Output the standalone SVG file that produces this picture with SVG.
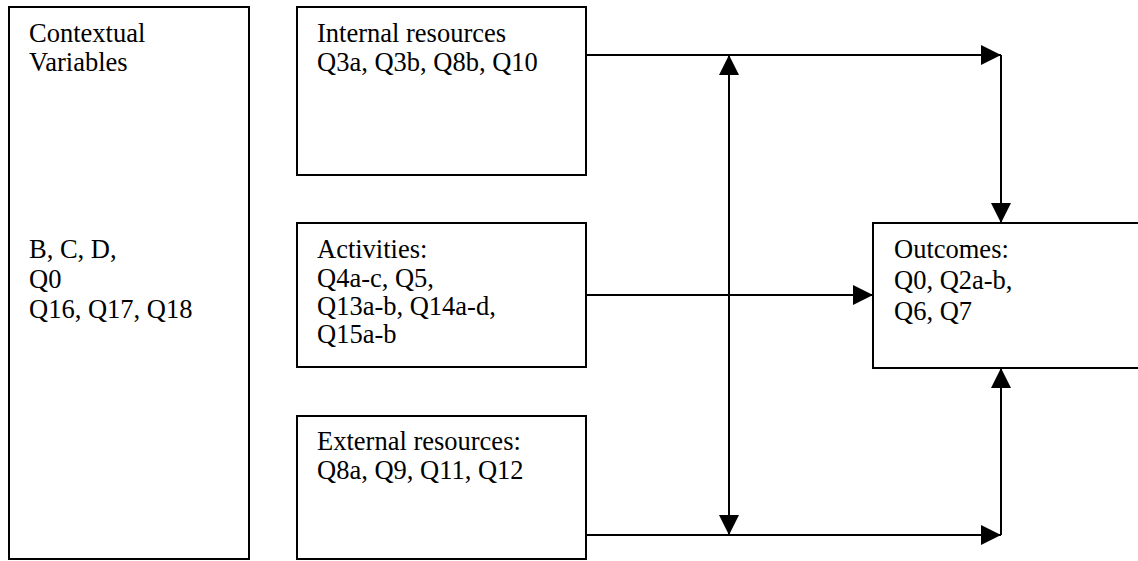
<svg xmlns="http://www.w3.org/2000/svg" width="1138" height="561" viewBox="0 0 1138 561">
  <style>
    .box { fill: #ffffff; stroke: #000000; stroke-width: 2; }
    .lbl { font-family: "Liberation Serif", "Times New Roman", serif; font-size: 26.5px; fill: #000000; }
    .conn { fill: none; stroke: #000000; stroke-width: 2; }
  </style>
  <defs>
    <marker id="arrow" viewBox="0 0 20 20" refX="20" refY="10" markerWidth="20" markerHeight="20" markerUnits="userSpaceOnUse" orient="auto">
      <path d="M0,0 L20,10 L0,20 z" fill="#000000"/>
    </marker>
  </defs>
  <rect width="1138" height="561" fill="#ffffff"/>

  <g id="contextual">
    <rect class="box" x="9" y="7" width="240" height="552"/>
    <text class="lbl" x="29" y="42">Contextual</text>
    <text class="lbl" x="29" y="71">Variables</text>
    <text class="lbl" x="29" y="258">B, C, D,</text>
    <text class="lbl" x="29" y="288">Q0</text>
    <text class="lbl" x="29" y="318">Q16, Q17, Q18</text>
  </g>

  <g id="internal">
    <rect class="box" x="297" y="7" width="289" height="168"/>
    <text class="lbl" x="317" y="42">Internal resources</text>
    <text class="lbl" x="317" y="71">Q3a, Q3b, Q8b, Q10</text>
  </g>

  <g id="activities">
    <rect class="box" x="297" y="223" width="289" height="144"/>
    <text class="lbl" x="317" y="258">Activities:</text>
    <text class="lbl" x="317" y="287">Q4a-c, Q5,</text>
    <text class="lbl" x="317" y="315">Q13a-b, Q14a-d,</text>
    <text class="lbl" x="317" y="343">Q15a-b</text>
  </g>

  <g id="external">
    <rect class="box" x="297" y="416" width="289" height="143"/>
    <text class="lbl" x="317" y="450">External resources:</text>
    <text class="lbl" x="317" y="479">Q8a, Q9, Q11, Q12</text>
  </g>

  <g id="outcomes">
    <rect class="box" x="873" y="223" width="280" height="145"/>
    <text class="lbl" x="894" y="258">Outcomes:</text>
    <text class="lbl" x="894" y="289">Q0, Q2a-b,</text>
    <text class="lbl" x="894" y="320">Q6, Q7</text>
  </g>

  <g id="connectors">
    <path class="conn" d="M586,55 H1001" marker-end="url(#arrow)"/>
    <path class="conn" d="M1001,55 V223" marker-end="url(#arrow)"/>
    <path class="conn" d="M586,295 H873" marker-end="url(#arrow)"/>
    <path class="conn" d="M586,535 H1001" marker-end="url(#arrow)"/>
    <path class="conn" d="M1001,535 V368" marker-end="url(#arrow)"/>
    <path class="conn" d="M729,295 V55" marker-end="url(#arrow)"/>
    <path class="conn" d="M729,295 V535" marker-end="url(#arrow)"/>
  </g>
</svg>
